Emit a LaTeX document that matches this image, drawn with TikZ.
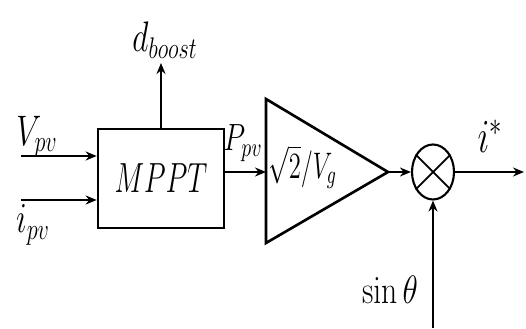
\documentclass[tikz,border=0pt]{standalone}
\usepackage{fix-cm}
\usepackage{graphicx}
\usetikzlibrary{arrows.meta,positioning,shapes.geometric,calc}
\newcommand{\tallmath}[2][1.35]{\scalebox{1}[#1]{$#2$}}
\tikzset{
  block/.style={rectangle,draw,line width=1.5pt,minimum width=2.52cm,minimum height=1.98cm,inner sep=0pt},
  mult/.style={ellipse,draw,line width=1.2pt,minimum width=0.84cm,minimum height=1.1cm,inner sep=0pt},
  sig/.style={-{Stealth[length=2.2mm,width=1.8mm]},line width=1.2pt},
  lbl/.style={font=\fontsize{18}{20}\selectfont,inner sep=0pt}
}
\begin{document}
\begin{tikzpicture}
        \useasboundingbox (0,0) rectangle (10.52,6.56);
        % MPPT block and its inputs
        \node[block,lbl,font=\fontsize{16}{18}\selectfont] (mppt) at (3.22,2.99) {\tallmath[1.5]{MPPT}};
        \coordinate (vin) at (0.42,3.44);
        \coordinate (iin) at (0.42,2.56);
        \coordinate (dout) at (3.22,5.30);
        \draw[sig] (vin) -- (vin -| mppt.west);
        \draw[sig] (iin) -- (iin -| mppt.west);
        \draw[sig] (mppt.north) -- (dout);
        \node[lbl] (vpv) at (0.74,3.82) {\tallmath{V_{pv}}};
        \node[lbl] (ipv) at (0.66,2.06) {\tallmath{i_{pv}}};
        \node[lbl] (dboost) at (3.30,5.76) {\tallmath{d_{boost}}};
        % gain
        \coordinate (gtop) at (5.32,4.58);
        \coordinate (gbot) at (5.32,1.70);
        \coordinate (gtip) at (7.76,3.12);
        \coordinate (gin) at (5.32,3.12);
        \draw[line width=1.5pt,line join=miter] (gtop) -- (gtip) -- (gbot) -- cycle;
        \draw[sig] (gin -| mppt.east) -- (gin);
        \node[lbl,font=\fontsize{16}{18}\selectfont] (ppv) at (4.86,3.70) {\tallmath{P_{pv}}};
        \node[lbl,anchor=west,font=\fontsize{14}{16}\selectfont] (gain) at (5.36,3.22) {\tallmath[1.5]{\sqrt{2}/V_g}};
        % multiplier
        \node[mult] (mul) at (8.66,3.12) {};
        \draw[line width=1pt] (mul.135) -- (mul.-45);
        \draw[line width=1pt] (mul.45) -- (mul.-135);
        \coordinate (sinin) at (8.66,0);
        \coordinate (iout) at (10.48,3.12);
        \draw[sig] (gtip) -- (mul.west);
        \draw[sig] (sinin) -- (mul.south);
        \draw[sig] (mul.east) -- (iout);
        \node[lbl] (sin) at (7.80,0.76) {\tallmath[1.25]{\sin\theta}};
        \node[lbl,font=\fontsize{20}{22}\selectfont] (iref) at (9.80,3.84) {\tallmath{i^*}};
      \end{tikzpicture}
\end{document}
